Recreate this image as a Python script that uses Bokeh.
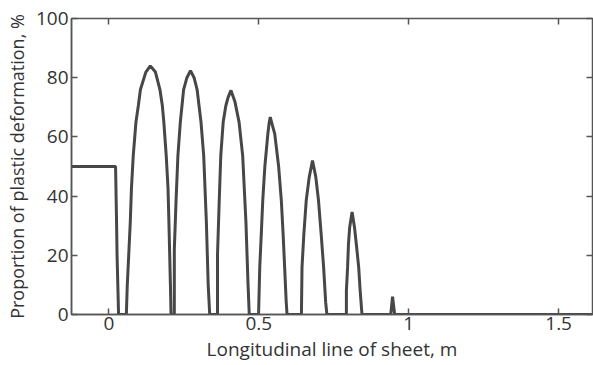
from bokeh.plotting import figure
from bokeh.models import LinearAxis, FixedTicker, Range1d, CustomJSTickFormatter
from bokeh.embed import file_html
from bokeh.resources import INLINE

# Longitudinal position along the sheet, m
x_m = [-0.2, 0.022, 0.025, 0.027, 0.032,
       0.058, 0.061, 0.071, 0.075, 0.081, 0.090, 0.098, 0.105, 0.123, 0.138, 0.155, 0.170, 0.178, 0.183, 0.191, 0.197, 0.200, 0.205, 0.207,
       0.218, 0.218, 0.224, 0.230, 0.238, 0.249, 0.260, 0.272, 0.284, 0.294, 0.307, 0.316, 0.325, 0.331, 0.336,
       0.362, 0.362, 0.368, 0.373, 0.381, 0.390, 0.398, 0.407, 0.420, 0.434, 0.446, 0.457, 0.464, 0.468,
       0.499, 0.503, 0.508, 0.513, 0.520, 0.530, 0.534, 0.538, 0.545, 0.553, 0.566, 0.575, 0.581, 0.586, 0.591, 0.594,
       0.642, 0.644, 0.650, 0.658, 0.668, 0.679, 0.690, 0.699, 0.708, 0.716, 0.723, 0.727,
       0.792, 0.792, 0.796, 0.799, 0.803, 0.811, 0.819, 0.825, 0.833, 0.838, 0.844,
       0.940, 0.946, 0.953,
       1.65]
# Proportion of plastic deformation, %
plastic_pct = [50, 50, 33, 20, 0,
               0, 9.8, 31, 42.6, 53.7, 65, 70.6, 76, 81.9, 84, 81.9, 76, 70.6, 65, 53.7, 42.6, 31, 10, 0,
               0, 22, 39, 53.7, 65, 76, 80, 82.4, 80, 76, 65, 53.7, 31, 10, 0,
               0, 20, 39, 53.7, 65, 70.6, 73.5, 75.7, 72, 65, 53.7, 31, 10, 0,
               0, 16, 27, 38.5, 50, 61, 64.5, 66.7, 64, 61, 50, 38.5, 27, 16, 4.7, 0,
               0, 16, 27, 38.5, 46.4, 52, 46.4, 38.5, 27, 16, 4, 0,
               0, 8, 16, 23.9, 29.5, 34.6, 29.5, 23.9, 16, 8, 0,
               0, 6, 0,
               0]

x_ticks = [0, 0.5, 1, 1.5]
x_tick_labels = {0: "0", 0.5: "0.5", 1: "1", 1.5: "1.5"}
y_ticks = [0, 20, 40, 60, 80, 100]

FONT = "Open Sans"
AX = "#555555"

p = figure(width=593, height=365, x_range=Range1d(-0.125, 1.613), y_range=Range1d(0, 100),
           output_backend="svg", toolbar_location=None,
           min_border_left=71, min_border_right=1, min_border_top=18, min_border_bottom=51,
           x_axis_label="Longitudinal line of sheet, m",
           y_axis_label="Proportion of plastic deformation, %")
p.grid.visible = False
p.outline_line_color = AX
p.outline_line_width = 1.5
p.background_fill_color = "white"
p.border_fill_color = "white"

p.line(x_m, plastic_pct, line_color="#474747", line_width=3)

for ax in (p.xaxis[0], p.yaxis[0]):
    ax.axis_line_color = AX
    ax.axis_line_width = 1.5
    ax.major_tick_in = 6
    ax.major_tick_out = 0
    ax.major_tick_line_color = AX
    ax.major_tick_line_width = 1.5
    ax.minor_tick_line_color = None
    ax.major_label_text_font = FONT
    ax.major_label_text_font_size = "19px"
    ax.major_label_text_color = "#333333"
    ax.axis_label_text_font = FONT
    ax.axis_label_text_font_style = "normal"
    ax.axis_label_text_color = "#333333"

p.xaxis[0].axis_label_text_font_size = "19px"
p.yaxis[0].axis_label_text_font_size = "18px"
p.xaxis[0].ticker = FixedTicker(ticks=x_ticks)
p.xaxis[0].major_label_overrides = x_tick_labels
p.xaxis[0].major_label_standoff = 2
p.xaxis[0].axis_label_standoff = 3
p.yaxis[0].ticker = FixedTicker(ticks=y_ticks)
p.yaxis[0].major_label_standoff = 3
p.yaxis[0].axis_label_standoff = 4

blank = CustomJSTickFormatter(code="return '';")
top = LinearAxis(ticker=FixedTicker(ticks=x_ticks), formatter=blank,
                 major_tick_in=6, major_tick_out=0, minor_tick_line_color=None,
                 axis_line_color=AX, major_tick_line_color=AX, major_tick_line_width=1.5,
                 major_label_standoff=0)
right = LinearAxis(ticker=FixedTicker(ticks=y_ticks), formatter=blank,
                   major_tick_in=6, major_tick_out=0, minor_tick_line_color=None,
                   axis_line_color=AX, major_tick_line_color=AX, major_tick_line_width=1.5,
                   major_label_standoff=0)
p.add_layout(top, "above")
p.add_layout(right, "right")

open("out.html", "w").write(file_html(p, INLINE))
